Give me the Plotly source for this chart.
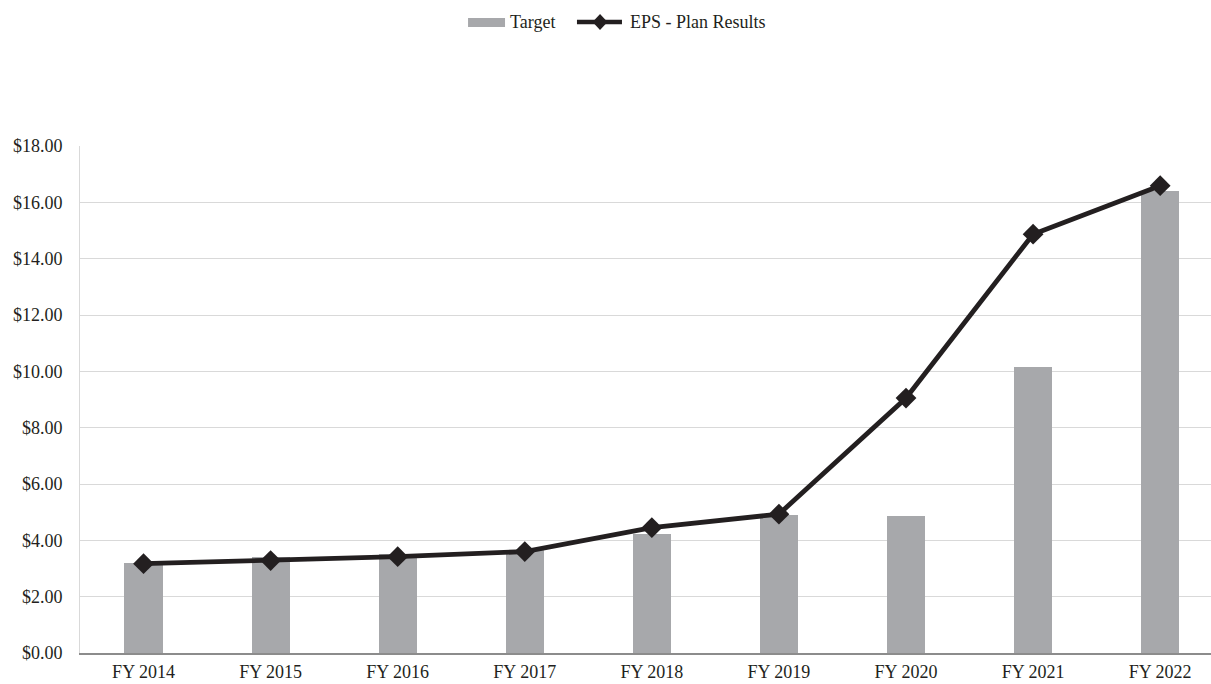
import plotly.graph_objects as go

years = ["FY 2014", "FY 2015", "FY 2016", "FY 2017", "FY 2018",
         "FY 2019", "FY 2020", "FY 2021", "FY 2022"]
target = [3.21, 3.41, 3.51, 3.66, 4.22, 4.90, 4.88, 10.15, 16.40]
eps_results = [3.17, 3.28, 3.42, 3.60, 4.45, 4.93, 9.05, 14.87, 16.59]

BAR_COLOR = "#a7a8ab"
LINE_COLOR = "#231f20"
FONT = "Liberation Serif"

x_idx = list(range(len(years)))

fig = go.Figure()
fig.add_trace(go.Bar(
    x=x_idx, y=target, name="Target", width=0.30,
    marker=dict(color=BAR_COLOR, line=dict(width=0)),
    showlegend=False,
))
fig.add_trace(go.Scatter(
    x=x_idx, y=eps_results, name="EPS - Plan Results", mode="lines+markers",
    line=dict(color=LINE_COLOR, width=4.8),
    marker=dict(symbol="diamond", size=16, color=LINE_COLOR),
    showlegend=False,
))

# Hand-drawn legend row above the plot (paper coordinates)
ly = 1.2446
cx, dx, dy = 0.4598, 0.0066, 0.0158
legend_shapes = [
    dict(type="rect", xref="paper", yref="paper", x0=0.3431, x1=0.3758,
         y0=1.2347, y1=1.2525, fillcolor=BAR_COLOR, line=dict(width=0)),
    dict(type="line", xref="paper", yref="paper", x0=0.4394, x1=0.4792,
         y0=ly, y1=ly, line=dict(color=LINE_COLOR, width=4.5)),
    dict(type="path", xref="paper", yref="paper",
         path=f"M {cx-dx},{ly} L {cx},{ly+dy} L {cx+dx},{ly} L {cx},{ly-dy} Z",
         fillcolor=LINE_COLOR, line=dict(width=0)),
]
legend_labels = [
    dict(text="Target", x=0.3785, y=ly, xref="paper", yref="paper",
         xanchor="left", yanchor="middle", showarrow=False,
         font=dict(family=FONT, size=18, color=LINE_COLOR)),
    dict(text="EPS - Plan Results", x=0.4845, y=ly, xref="paper", yref="paper",
         xanchor="left", yanchor="middle", showarrow=False,
         font=dict(family=FONT, size=18, color=LINE_COLOR)),
]

fig.update_layout(
    width=1211, height=684,
    margin=dict(l=80, r=0, t=146, b=31),
    paper_bgcolor="white", plot_bgcolor="white",
    font=dict(family=FONT, size=18, color=LINE_COLOR),
    showlegend=False,
    bargap=0,
    shapes=legend_shapes,
    annotations=legend_labels,
)
fig.update_xaxes(
    range=[-0.5, 8.4], tickmode="array", tickvals=x_idx, ticktext=years,
    showgrid=False, showline=True, linecolor="#8c8c8c", linewidth=1.5,
    ticks="", ticklabelstandoff=2, automargin=False, fixedrange=True,
)
fig.update_yaxes(
    range=[0, 18], dtick=2, tickprefix="$", tickformat=".2f",
    showgrid=True, gridcolor="#d9d9d9", gridwidth=1,
    showline=True, linecolor="#d9d9d9", linewidth=1,
    zeroline=False, ticks="", ticklabelstandoff=13, automargin=False,
)

fig.write_html("out.html")
